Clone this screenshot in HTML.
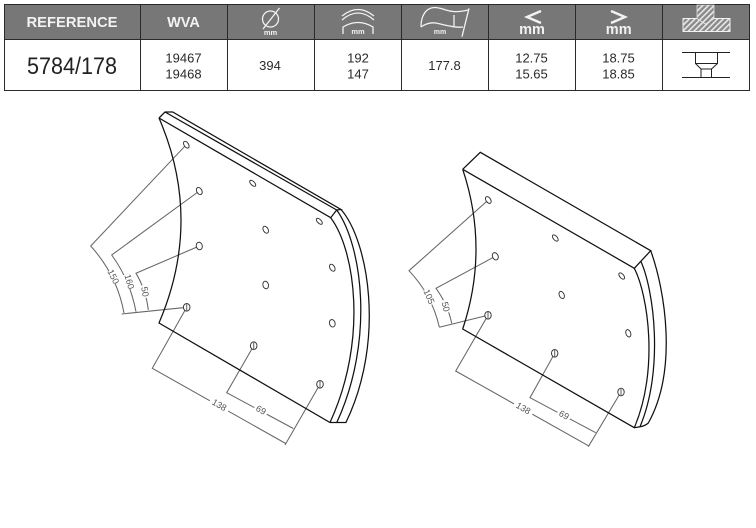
<!DOCTYPE html>
<html><head><meta charset="utf-8"><style>
html,body{margin:0;padding:0;background:#fff;width:756px;height:528px;overflow:hidden}
svg{display:block}
text{font-family:"Liberation Sans",Arial,sans-serif}
.h{fill:#f2f2f2;font-weight:bold;text-anchor:middle}
.c{fill:#2a2a2a;font-size:13px;text-anchor:middle}
.e{fill:none;stroke:#111;stroke-width:1.25}
.d{fill:none;stroke:#666;stroke-width:1.05}
.o{fill:#fff;stroke:#333;stroke-width:.95}
.l{fill:#555;font-size:9px;text-anchor:middle}
.w{fill:none;stroke:#f2f2f2;stroke-width:1.3}
</style></head><body>
<svg width="756" height="528" viewBox="0 0 756 528" xmlns="http://www.w3.org/2000/svg">
<defs><pattern id="ht" width="4" height="4" patternUnits="userSpaceOnUse" patternTransform="rotate(45)"><rect width="4" height="4" fill="#8a8a8a"/><rect width="1.6" height="4" fill="#e8e8e8"/></pattern></defs>
<rect x="4.5" y="4.5" width="745" height="35" fill="#777"/>
<g fill="none" stroke="#2a2a2a" stroke-width="1">
<rect x="4.5" y="4.5" width="745" height="86"/>
<path d="M4.5 39.5H749.5M140.5 4.5V90.5M227.5 4.5V90.5M314.5 4.5V90.5M401.5 4.5V90.5M488.5 4.5V90.5M575.5 4.5V90.5M662.5 4.5V90.5"/>
</g>
<text x="72" y="27" class="h" font-size="14.5" textLength="91" lengthAdjust="spacingAndGlyphs">REFERENCE</text>
<text x="183.5" y="27" class="h" font-size="14.5">WVA</text>
<circle cx="270.5" cy="19" r="8" class="w"/><path d="M263 29L279.5 8" class="w"/>
<text x="270.5" y="35" class="h" font-size="7.5">mm</text>
<path d="M342 20Q358 6 374 20M342 16Q358 3 374 16M343 34V27Q358 18 373 27V34" class="w"/>
<text x="358" y="34" class="h" font-size="7.5">mm</text>
<path d="M421 27C421 14 427 8 434 7.5C444 7 448 15 468 10M421 27Q428 22 436 23C445 25 455 28 463 27M454 15V26M469 8.3L462 36.7" class="w"/>
<text x="440" y="34" class="h" font-size="7">mm</text>
<path d="M541 11L527 17L541 23" fill="none" stroke="#f2f2f2" stroke-width="2.4"/>
<text x="532" y="34" class="h" font-size="14.5">mm</text>
<path d="M611 11L625 17L611 23" fill="none" stroke="#f2f2f2" stroke-width="2.4"/>
<text x="618.7" y="34" class="h" font-size="14.5">mm</text>
<path d="M683 18.5H697L705.5 24L714 18.5H730V31.5H683Z" fill="url(#ht)" stroke="#f2f2f2"/>
<path d="M697 5H714V18.5L705.5 24L697 18.5Z" fill="url(#ht)" stroke="#e0e0e0" stroke-width=".8"/>

<text x="72" y="74" font-size="24" text-anchor="middle" fill="#222" textLength="90" lengthAdjust="spacingAndGlyphs">5784/178</text>
<text x="183.5" y="62.5" class="c">19467</text><text x="183.5" y="78.5" class="c">19468</text>
<text x="270" y="70" class="c">394</text>
<text x="358" y="62.5" class="c">192</text><text x="358" y="78.5" class="c">147</text>
<text x="444.5" y="70" class="c">177.8</text>
<text x="531.5" y="62.5" class="c">12.75</text><text x="531.5" y="78.5" class="c">15.65</text>
<text x="618.5" y="62.5" class="c">18.75</text><text x="618.5" y="78.5" class="c">18.85</text>
<path d="M682 52.5H730M682 77.5H730M695.5 52.5V63.5H717.5V52.5M695.5 63.5L701 69H711.5L717.5 63.5M701 69V77.5M711.5 69V77.5" fill="none" stroke="#222" stroke-width="1"/>

<!-- Left shoe -->
<path class="d" d="M186.3 144.7L90.7 246Q117 275 124 313M199.3 191L111.7 255Q130 280 136 311.7M199.3 246L136 273.3Q146 290 148.3 310M186.7 307.3L121.7 314"/>
<path class="d" d="M186.7 307.3L152.3 368.3L285.7 443.5M253.7 345.7L226.7 392.7L293.3 428.5M320 384.3L285 445"/>
<g fill="#fff">
<rect x="209" y="399" width="21" height="12" transform="rotate(30 219.3 405)"/>
<rect x="254" y="405" width="14" height="11" transform="rotate(30 261 410)"/>
<rect x="107" y="270" width="13" height="14" transform="rotate(-28 113 277)"/>
<rect x="124" y="274" width="11" height="15" transform="rotate(-14 129 282)"/>
<rect x="140" y="285" width="10" height="13" transform="rotate(-10 145 292)"/>
</g>
<text class="l" y="3" transform="translate(219.3 405) rotate(30)">138</text>
<text class="l" y="3" transform="translate(261 410) rotate(30)">69</text>
<text class="l" y="3" transform="translate(113.3 276.7) rotate(64)">150</text>
<text class="l" y="3" transform="translate(129.3 281.7) rotate(74)">160</text>
<text class="l" y="3" transform="translate(145 291.7) rotate(80)">50</text>
<path class="e" d="M159 118L165 112H172.7L341 209.5L336.7 210L330.7 217.7L159 118M165 112L336.7 210"/>
<path class="e" d="M159 118Q203 220 159 323L330 422.5H345.7"/>
<path class="e" d="M330.7 217.7C355 250 368 340 330 422.5M336.7 210C362 245 375 340 336.7 422.7M341 209.5C368 240 386 340 345.7 423"/>
<g class="o">
<ellipse cx="186.3" cy="144.7" rx="2.2" ry="3.8" transform="rotate(-35 186.3 144.7)"/>
<ellipse cx="199.3" cy="191" rx="2.6" ry="3.8" transform="rotate(-30 199.3 191)"/>
<ellipse cx="199.3" cy="246" rx="3" ry="3.8" transform="rotate(-15 199.3 246)"/>
<ellipse cx="186.7" cy="307.3" rx="3.3" ry="3.8"/>
<ellipse cx="253.7" cy="345.7" rx="3.3" ry="3.8"/>
<ellipse cx="320" cy="384.3" rx="3.3" ry="3.8"/>
<ellipse cx="252.7" cy="183.3" rx="1.9" ry="3.8" transform="rotate(-45 252.7 183.3)"/>
<ellipse cx="319.3" cy="221.3" rx="1.9" ry="3.8" transform="rotate(-45 319.3 221.3)"/>
<ellipse cx="265.7" cy="229.7" rx="2.4" ry="3.8" transform="rotate(-30 265.7 229.7)"/>
<ellipse cx="332.3" cy="267.7" rx="2.4" ry="3.8" transform="rotate(-30 332.3 267.7)"/>
<ellipse cx="265.7" cy="285" rx="2.8" ry="3.8" transform="rotate(-15 265.7 285)"/>
<ellipse cx="332.3" cy="323.3" rx="2.8" ry="3.8" transform="rotate(-15 332.3 323.3)"/>
</g>
<path class="d" d="M186.7 303.5V311M253.7 342V349.5M320 380.5V388"/>

<!-- Right shoe -->
<path class="d" d="M488.3 200L409 270.7Q432 295 439.3 327M495.3 256.3L436 288.3Q448 305 451.7 323.3M488 315.3L439.3 327.3"/>
<path class="d" d="M488 315.3L455.7 371L588.3 445.7M554.7 353.3L530 397.7L595.7 432.7M621 392L588.3 446.7"/>
<g fill="#fff">
<rect x="513" y="402" width="21" height="12" transform="rotate(30 523.3 408.3)"/>
<rect x="557" y="410" width="14" height="11" transform="rotate(30 564 415)"/>
<rect x="423" y="289" width="12" height="16" transform="rotate(-24 429 297)"/>
<rect x="440" y="300" width="10" height="13" transform="rotate(-14 445 306)"/>
</g>
<text class="l" y="3" transform="translate(523.3 408.3) rotate(30)">138</text>
<text class="l" y="3" transform="translate(564 415) rotate(30)">69</text>
<text class="l" y="3" transform="translate(429 296.7) rotate(66)">105</text>
<text class="l" y="3" transform="translate(445.7 306.7) rotate(76)">50</text>
<path class="e" d="M462.7 169.3L480.3 152.3L650.7 250.7L634.3 268.3L462.7 169.3"/>
<path class="e" d="M462.7 169.3Q489.3 249 462.7 329L634.3 427.7L640 426.7"/>
<path class="e" d="M634.3 268.3C648 295 659 370 634.3 427.7M640.7 261C654 290 664 370 640 426.7M650.7 250.7C665 290 678 370 648.3 423Q645 426 640 426.7"/>
<g class="o">
<ellipse cx="488.3" cy="200" rx="2.3" ry="3.8" transform="rotate(-35 488.3 200)"/>
<ellipse cx="495.3" cy="256.3" rx="2.8" ry="3.8" transform="rotate(-25 495.3 256.3)"/>
<ellipse cx="488" cy="315.3" rx="3.2" ry="3.8"/>
<ellipse cx="554.7" cy="353.3" rx="3.2" ry="3.8"/>
<ellipse cx="621" cy="392" rx="3.2" ry="3.8"/>
<ellipse cx="555.3" cy="238" rx="2" ry="3.8" transform="rotate(-40 555.3 238)"/>
<ellipse cx="621.7" cy="276" rx="2" ry="3.8" transform="rotate(-40 621.7 276)"/>
<ellipse cx="561.7" cy="295" rx="2.4" ry="3.8" transform="rotate(-25 561.7 295)"/>
<ellipse cx="628.3" cy="333.3" rx="2.4" ry="3.8" transform="rotate(-20 628.3 333.3)"/>
</g>
<path class="d" d="M488 311.5V319M554.7 349.5V357M621 388V396"/>
</svg>
</body></html>
